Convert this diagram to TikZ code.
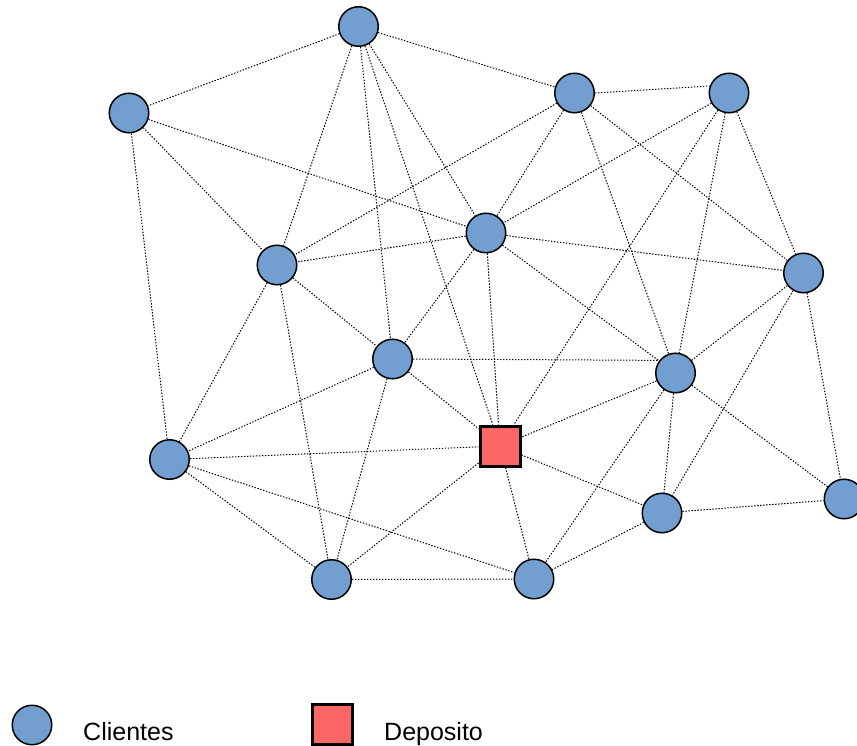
\documentclass[tikz,border=0pt]{standalone}
\usepackage{fontspec}
\setmainfont{Liberation Sans}
\definecolor{cliblue}{HTML}{729FCF}
\definecolor{depred}{HTML}{FF6666}
\tikzset{
  cliente/.style={circle, draw=black, line width=1.5pt, fill=cliblue, minimum size=39.5pt, inner sep=0pt},
  deposito/.style={rectangle, draw=black, line width=3pt, fill=depred, minimum size=40pt, inner sep=0pt},
  link/.style={draw=black, line width=1pt, dash pattern=on 1.4pt off 1.6pt},
  legendtext/.style={font=\fontsize{25}{30}\selectfont, anchor=base west, inner sep=0pt}
}
\begin{document}
\begin{tikzpicture}[x=1pt,y=-1pt]
\useasboundingbox (0,0) rectangle (857,746);
% nodes
\node[cliente] (A) at (358.5,26.5) {};
\node[cliente] (B) at (129,113) {};
\node[cliente] (C) at (574.5,93) {};
\node[cliente] (D) at (729,93) {};
\node[cliente] (E) at (486,233) {};
\node[cliente] (F) at (277,265) {};
\node[cliente] (G) at (803.5,273) {};
\node[cliente] (H) at (392.5,359) {};
\node[cliente] (I) at (675.5,373) {};
\node[cliente] (J) at (169.5,459.5) {};
\node[deposito] (K) at (500,446) {};
\node[cliente] (L) at (662,513) {};
\node[cliente] (M) at (844,499) {};
\node[cliente] (N) at (331.5,579.5) {};
\node[cliente] (O) at (534,579) {};
% connectors
\foreach \a/\b in {A/B,A/C,A/F,A/H,A/E,A/K,
  B/F,B/E,B/J,
  C/E,C/F,C/G,C/I,
  D/E,D/G,D/I,D/K,
  E/F,E/G,E/H,E/I,E/K,
  F/H,F/J,F/N,
  G/I,G/L,G/M,
  H/J,H/K,H/N,
  I/K,I/L,I/M,I/O,
  J/K,J/N,J/O,
  K/L,K/N,K/O,
  L/M,L/O,
  N/O}
  \draw[link] (\a) -- (\b);
\draw[link] (C.east) -- (D.160);
\draw[link] (H.east) -- (I.142);
% legend
\node[cliente] (legC) at (32,725) {};
\node[legendtext] (legCt) at (83,740) {Clientes};
\node[deposito] (legD) at (332,724) {};
\node[legendtext] (legDt) at (384,740) {Deposito};
\end{tikzpicture}
\end{document}
